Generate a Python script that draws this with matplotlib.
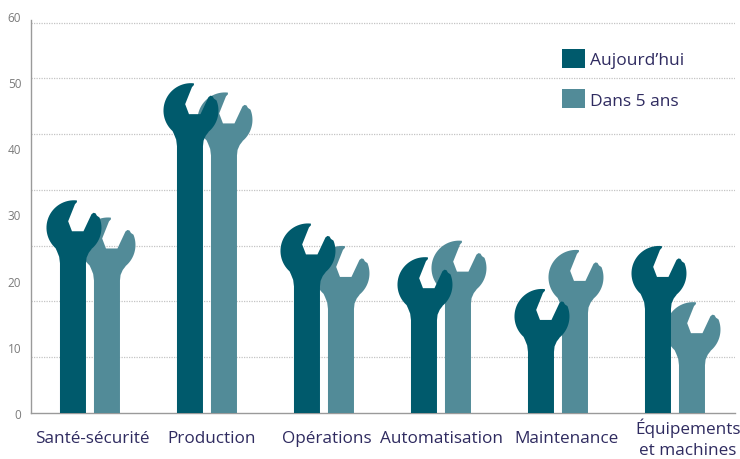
import numpy as np
import matplotlib
matplotlib.use("Agg")
import matplotlib.pyplot as plt
import matplotlib.transforms as mtransforms
from matplotlib.path import Path
from matplotlib.patches import PathPatch, Patch

# ---- data ----
categories = ["Santé-sécurité", "Production", "Opérations", "Automatisation",
              "Maintenance", "Équipements\net machines"]
aujourdhui = [32.0, 49.7, 28.5, 23.4, 18.6, 25.1]
dans_5_ans = [29.4, 48.3, 25.1, 25.9, 24.5, 16.6]
series_names = ["Aujourd\u2019hui", "Dans 5 ans"]
ytick_values = [0, 10, 20, 30, 40, 50, 60]

# ---- layout / style ----
label_dx_px = [2, 5, 3, 1, 9, 13]   # small horizontal nudges of category labels
DARK = "#005a6c"
LIGHT = "#528b98"
TEXT = "#2f2b60"
TICK = "#7b7b7b"
GRID = "#c4c4c4"

plt.rcParams['font.family'] = ['Open Sans', 'DejaVu Sans']

fig = plt.figure(figsize=(7.4, 4.6), dpi=100)
W, H = 740, 460
ax = fig.add_axes([31 / W, 46 / H, 704 / W, 397 / H])
ax.set_xlim(-0.504, 5.513)
ax.set_ylim(0, 60)

# pixel scale of the data axes
p0 = ax.transData.transform((0, 0))
p1 = ax.transData.transform((1, 1))
sx, sy = p1[0] - p0[0], p1[1] - p0[1]

# wrench outline (pixel offsets relative to shaft centre / head top)
R = 27.5
cx0, cy0 = 1.0, -26.5
half_w = 13.0


def arc(a0, a1, n, r=R):
    out = []
    for a in np.linspace(a0, a1, n):
        t = np.radians(a)
        out.append((cx0 + r * np.cos(t), cy0 + r * np.sin(t)))
    return out


def wrench_vertices(xc, top):
    pts = [(-half_w, None), (half_w, None), (half_w, -62.0),
           (13.6, -56.5), (15.8, -51.5), (18.5, -48.0)]
    pts += arc(-50, 22, 22)
    pts += [(24.0, -14.5), (22.5, -12.0), (20.5, -11.5), (18.5, -13.0),
            (10.5, -30.0), (-1.0, -30.0), (-4.8, -20.0), (2.0, -3.0),
            (4.0, -0.8)]
    pts += arc(84, 228, 32)
    pts += [(-16.0, -50.0), (-13.8, -55.5), (-half_w, -62.0)]
    verts = []
    for px, py in pts:
        x = xc + px / sx
        y = 0.0 if py is None else top + py / sy
        verts.append((x, y))
    verts.append(verts[0])
    codes = [Path.MOVETO] + [Path.LINETO] * (len(verts) - 2) + [Path.CLOSEPOLY]
    return Path(verts, codes)


offset = 17.0 / sx
xs = np.arange(len(categories))
for i in xs:
    ax.add_patch(PathPatch(wrench_vertices(i + offset, dans_5_ans[i]),
                           facecolor=LIGHT, edgecolor="none", zorder=3))
for i in xs:
    ax.add_patch(PathPatch(wrench_vertices(i - offset, aujourdhui[i]),
                           facecolor=DARK, edgecolor="none", zorder=4))

# grid lines (dotted, independent of the tick labels as in the original)
for g in np.arange(1, 8) * 59.0 / 7:
    ax.axhline(g, color=GRID, lw=0.9, ls=(0, (1, 1)), zorder=1)

for s in ["top", "right"]:
    ax.spines[s].set_visible(False)
ax.spines["left"].set_color("#9a9a9a")
ax.spines["left"].set_bounds(0, 59.4)
ax.spines["bottom"].set_color("#9a9a9a")
ax.spines["left"].set_linewidth(1.0)
ax.spines["bottom"].set_linewidth(1.0)

ax.set_yticks(ytick_values)
ax.set_yticklabels([str(v) for v in ytick_values], color=TICK, fontsize=8.5)
ax.tick_params(axis="y", length=0, pad=7)

# category labels (ticks at categories, labels slightly nudged)
ax.set_xticks(xs)
ax.set_xticklabels([])
ax.tick_params(axis="x", length=0)
blend = mtransforms.blended_transform_factory(ax.transData, ax.transAxes)
for i, (lab, dx) in enumerate(zip(categories, label_dx_px)):
    tr = blend + mtransforms.ScaledTranslation(dx / 100, -25 / 100,
                                               fig.dpi_scale_trans)
    ax.text(i, 0, lab, transform=tr, ha="center", va="center",
            color=TEXT, fontsize=12.3, linespacing=1.45, clip_on=False)

handles = [Patch(facecolor=DARK, edgecolor="none"),
           Patch(facecolor=LIGHT, edgecolor="none")]
fig.legend(handles, series_names, loc="upper left",
           bbox_to_anchor=(550 / W, 1 - 38 / H), frameon=False,
           fontsize=12.5, labelcolor=TEXT, handlelength=1.3, handleheight=1.3,
           handletextpad=0.3, labelspacing=1.2, borderpad=0.2)

fig.savefig("out.png", dpi=100)
